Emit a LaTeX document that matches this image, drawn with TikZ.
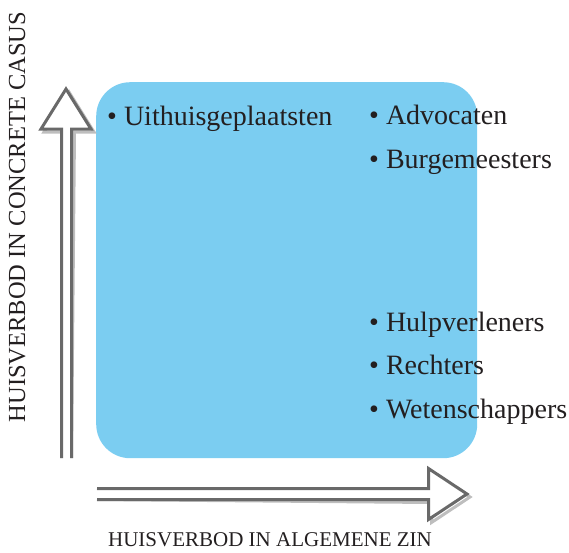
\documentclass[tikz,border=0pt]{standalone}
\usepackage{fontspec}
\setmainfont{Liberation Serif}
\definecolor{boxblue}{RGB}{123,205,241}
\definecolor{arrowgray}{RGB}{105,105,105}
\definecolor{shadowgray}{RGB}{190,190,190}
\definecolor{txt}{RGB}{35,31,32}
\begin{document}
\begin{tikzpicture}[x=1pt,y=-1pt,
  item/.style={anchor=base west,inner sep=0pt,text=txt,font=\fontsize{28}{30}\selectfont},
  axislabel/.style={anchor=base,inner sep=0pt,text=txt},
  arrline/.style={draw=arrowgray,line width=3pt,line join=miter},
  arrshadow/.style={draw=shadowgray,line width=3pt,line join=miter}]
\useasboundingbox (0,0) rectangle (569,552);
% blue field
\node[fill=boxblue,rounded corners=34pt,minimum width=381pt,minimum height=376pt,inner sep=0pt,anchor=north west] (field) at (96,82) {};
% vertical arrow
\coordinate (vb1) at (61.5,458);
\coordinate (vb2) at (71.5,458);
\begin{scope}[shift={(3,3)}]
\draw[arrshadow] (vb1) -- (61.5,129) -- (41,129) -- (66,89) -- (91,129) -- (71.5,129) -- (vb2);
\end{scope}
\fill[white] (vb1) -- (61.5,129) -- (41,129) -- (66,89) -- (91,129) -- (71.5,129) -- (vb2) -- cycle;
\draw[arrline] (vb1) -- (61.5,129) -- (41,129) -- (66,89) -- (91,129) -- (71.5,129) -- (vb2);
% horizontal arrow
\coordinate (hb1) at (97,488.5);
\coordinate (hb2) at (97,499.5);
\begin{scope}[shift={(3,3)}]
\draw[arrshadow] (hb1) -- (428.5,488.5) -- (428.5,468.5) -- (467,494) -- (428.5,519.5) -- (428.5,499.5) -- (hb2);
\end{scope}
\fill[white] (hb1) -- (428.5,488.5) -- (428.5,468.5) -- (467,494) -- (428.5,519.5) -- (428.5,499.5) -- (hb2) -- cycle;
\draw[arrline] (hb1) -- (428.5,488.5) -- (428.5,468.5) -- (467,494) -- (428.5,519.5) -- (428.5,499.5) -- (hb2);
% items
\node[item] (uit) at (107,125) {\textbullet\ Uithuisgeplaatsten};
\node[item] (adv) at (369,124) {\textbullet\ Advocaten};
\node[item] (bur) at (369,168) {\textbullet\ Burgemeesters};
\node[item] (hul) at (369,331) {\textbullet\ Hulpverleners};
\node[item] (rec) at (369,374) {\textbullet\ Rechters};
\node[item] (wet) at (369,418) {\textbullet\ Wetenschappers};
% axis labels
\node[axislabel,font=\fontsize{21}{24}\selectfont] (xlab) at (270,546) {HUISVERBOD IN ALGEMENE ZIN};
\node[axislabel,rotate=90,font=\fontsize{24.5}{28}\selectfont] (ylab) at (25,217) {HUISVERBOD IN CONCRETE CASUS};
\end{tikzpicture}
\end{document}
